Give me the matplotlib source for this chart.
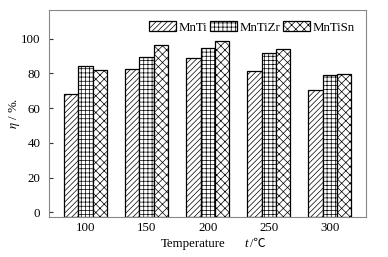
import numpy as np
import matplotlib
matplotlib.use("Agg")
import matplotlib.pyplot as plt

plt.rcParams['font.family'] = ['Liberation Serif', 'DejaVu Sans']
plt.rcParams['mathtext.fontset'] = 'stix'
plt.rcParams['hatch.linewidth'] = 0.5

temps = ['100', '150', '200', '250', '300']
series = ['MnTi', 'MnTiZr', 'MnTiSn']
mnti = [68.0, 82.4, 88.7, 81.2, 70.4]
mntizr = [84.4, 89.6, 94.4, 91.6, 78.9]
mntisn = [82.1, 96.3, 98.6, 94.2, 79.8]
yticks = [0, 20, 40, 60, 80, 100]

hatches = ['//////', '++++', 'xxxx']
y0, y1 = -2.5, 116.7
fs = 9.3

fig = plt.figure(figsize=(3.88, 2.57), dpi=100)
ax = fig.add_axes([48.7 / 388, 1 - 216.7 / 257, (366 - 48.7) / 388, (216.7 - 9.7) / 257])

x = np.arange(len(temps))
w = 0.234
for i, (name, vals) in enumerate(zip(series, [mnti, mntizr, mntisn])):
    vals = np.array(vals)
    ax.bar(x + (i - 1) * w, vals - y0, w, bottom=y0, color='white',
           edgecolor='black', linewidth=0.9, hatch=hatches[i], label=name)

ax.set_xlim(-0.6, 4.59)
ax.set_ylim(y0, y1)
ax.set_xticks(x)
ax.set_xticklabels(temps)
ax.set_yticks(yticks)
ax.tick_params(axis='x', length=0, labelsize=fs, pad=4)
ax.tick_params(axis='y', direction='in', length=3, width=0.8, labelsize=fs, pad=6, color='#333333')
for s in ax.spines.values():
    s.set_color('#888888')
    s.set_linewidth(0.8)

fig.text(15 / 388, 1 - 113 / 257, r'$\eta$ / %.', fontsize=fs, rotation=90,
         ha='center', va='center')

# x label pieces
fig.text(161 / 388, 1 - 244 / 257, 'Temperature', fontsize=fs, ha='left', va='center')
fig.text(244 / 388, 1 - 244 / 257, 't', fontsize=fs, style='italic', ha='left', va='center')
fig.text(250 / 388, 1 - 244 / 257, '/℃', fontsize=fs - 0.5, ha='left', va='center',
         family=['Liberation Serif', 'Noto Sans CJK SC', 'DejaVu Sans'])

leg = ax.legend(loc='upper right', ncol=3, frameon=False, fontsize=fs,
                handlelength=2.1, handleheight=0.8, handletextpad=0.2,
                columnspacing=0.2, bbox_to_anchor=(0.985, 0.975), borderaxespad=0.1)

fig.savefig('out.png', dpi=100)
